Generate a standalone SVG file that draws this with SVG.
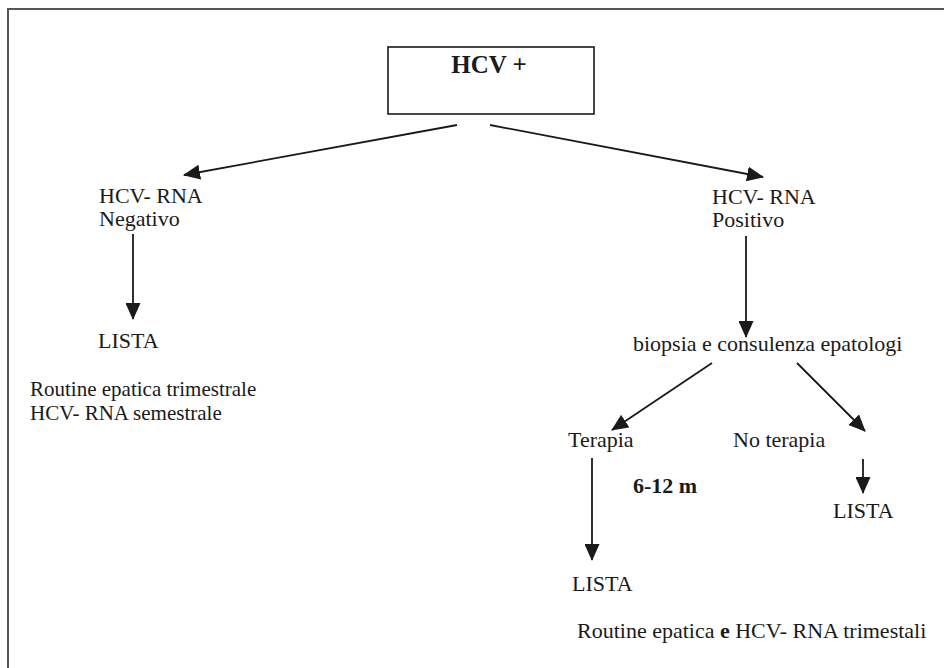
<svg xmlns="http://www.w3.org/2000/svg" width="944" height="668" viewBox="0 0 944 668">
<style>
text{font-family:"Liberation Serif","Times New Roman",serif;font-size:22px;fill:#1a1a1a}
.b{font-weight:bold}
.c line{stroke:#1a1a1a;stroke-width:1.8;marker-end:url(#ah)}
</style>
<defs>
<marker id="ah" markerUnits="userSpaceOnUse" markerWidth="17" markerHeight="15" refX="16" refY="7.5" orient="auto">
<path d="M0,0 L17,7.5 L0,15 Z" fill="#1a1a1a"/>
</marker>
</defs>
<rect width="944" height="668" fill="#fff"/>
<path d="M8,668 V9 H944" fill="none" stroke="#555" stroke-width="2"/>
<g id="hcv"><rect x="388" y="47" width="206" height="67" fill="#fff" stroke="#1a1a1a" stroke-width="1.6"/><text x="489" y="73" class="b" text-anchor="middle" style="font-size:25px">HCV +</text></g>
<g id="neg"><text x="99" y="203">HCV- RNA</text><text x="99" y="226">Negativo</text></g>
<g id="pos"><text x="712" y="204">HCV- RNA</text><text x="712" y="227">Positivo</text></g>
<g id="lista1"><text x="98" y="348">LISTA</text></g>
<g id="note1"><text x="30" y="396" style="font-size:21px">Routine epatica trimestrale</text><text x="30" y="420" style="font-size:21px">HCV- RNA semestrale</text></g>
<g id="biopsia"><text x="633" y="351">biopsia e consulenza epatologi</text></g>
<g id="terapia"><text x="568" y="447">Terapia</text></g>
<g id="noterapia"><text x="733" y="447">No terapia</text></g>
<g id="durata"><text x="633" y="493" class="b">6-12 m</text></g>
<g id="lista2"><text x="833" y="518">LISTA</text></g>
<g id="lista3"><text x="572" y="591">LISTA</text></g>
<g id="note2"><text x="577" y="638">Routine epatica <tspan class="b">e</tspan> HCV- RNA trimestali</text></g>
<g id="connectors" class="c">
<line x1="457" y1="125" x2="184" y2="175"/>
<line x1="490" y1="125" x2="763" y2="177"/>
<line x1="133" y1="234" x2="133" y2="319"/>
<line x1="746" y1="236" x2="746" y2="337"/>
<line x1="712" y1="363" x2="612" y2="430"/>
<line x1="797" y1="363" x2="865" y2="431"/>
<line x1="592" y1="458" x2="592" y2="560"/>
<line x1="863" y1="459" x2="863" y2="493"/>
</g>
</svg>
